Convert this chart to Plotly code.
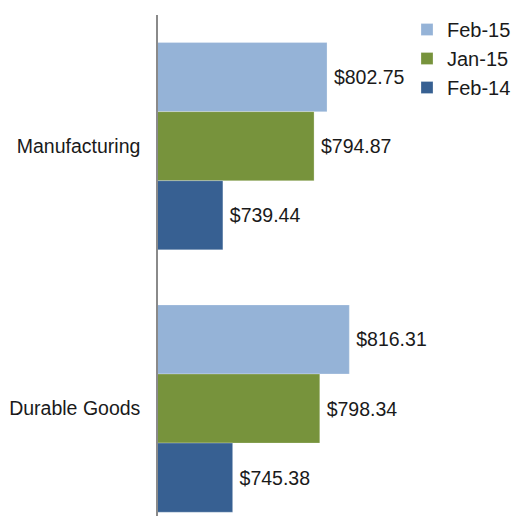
import plotly.graph_objects as go

categories = ["Manufacturing", "Durable Goods"]
series_names = ["Feb-15", "Jan-15", "Feb-14"]
feb15 = [802.75, 816.31]
jan15 = [794.87, 798.34]
feb14 = [739.44, 745.38]
colors = ["#95B3D7", "#77933C", "#376092"]

FONT = "Liberation Sans"
fig = go.Figure()
for name, vals, col in zip(series_names, [feb15, jan15, feb14], colors):
    fig.add_trace(go.Bar(
        y=categories, x=vals, name=name, orientation="h",
        marker=dict(color=col, line=dict(color="rgba(255,255,255,0.5)", width=0.5)),
        text=[f"\u2009${v:,.2f}" for v in vals], textposition="outside",
        textfont=dict(family=FONT, size=19.5, color="#1a1a1a"),
        cliponaxis=False, hoverinfo="skip",
    ))

W, H = 527, 516
L, R, T, B = 150, 48, 7, 0
pw = W - L - R
ph = H - T - B
fig.update_layout(
    width=W, height=H,
    margin=dict(l=L, r=R, t=T, b=B, autoexpand=False),
    paper_bgcolor="white", plot_bgcolor="white",
    barmode="group", bargap=0.21, bargroupgap=0.0,
    font=dict(family=FONT, size=19, color="#1a1a1a"),
    showlegend=True,
    legend=dict(x=(399 - L) / pw, xanchor="left", y=1 + 5 / ph, yanchor="top",
                font=dict(family=FONT, size=20, color="#1a1a1a"),
                tracegroupgap=0, bgcolor="rgba(0,0,0,0)"),
    xaxis=dict(range=[700, 900], showgrid=False, zeroline=False,
               showticklabels=False, ticks="", showline=False, fixedrange=True),
    yaxis=dict(type="category", categoryorder="array", categoryarray=categories,
               range=[1.44, -0.5], showgrid=False, zeroline=False,
               showline=True, linecolor="#8a8a8a", linewidth=1.5,
               ticks="", ticklabelstandoff=12,
               tickfont=dict(family=FONT, size=19.5, color="#1a1a1a")),
)
fig.write_html("out.html")
